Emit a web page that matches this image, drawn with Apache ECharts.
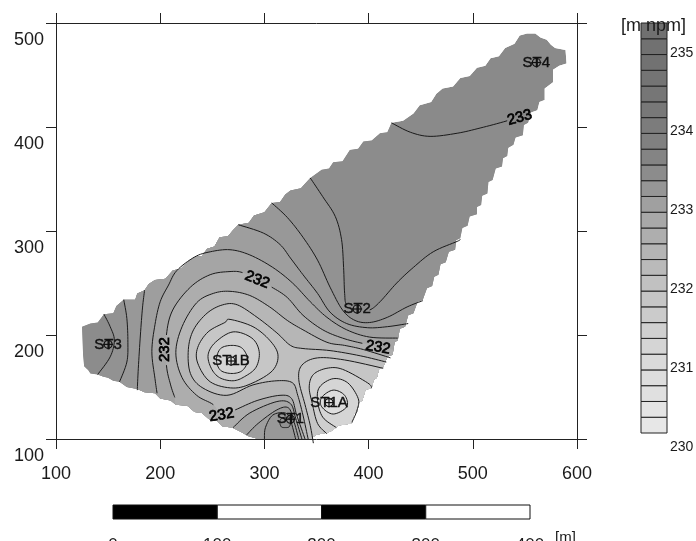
<!DOCTYPE html>
<html><head><meta charset="utf-8">
<style>html,body{margin:0;padding:0;background:#fff}#c{width:696px;height:541px}</style>
<script src="https://cdn.jsdelivr.net/npm/echarts@6/dist/echarts.min.js"></script>
</head><body><div id="c"></div>
<script>
const FONT='"Liberation Sans",Arial,sans-serif';
// site outline, metres
const outline=[[552,490],[560,490],[565,486],[571,484],[575,479],[579,476],[589,474],[590,461],[583,459],[577,455],[577,443],[569,437],[569,426],[564,424],[562,416],[556,414],[553,404],[549,402],[548,392],[541,390],[539,383],[534,380],[533,372],[529,370],[528,362],[522,360],[519,349],[515,347],[514,336],[509,334],[508,325],[504,323],[504,316],[497,314],[495,305],[490,303],[488,293],[484,291],[483,282],[477,280],[474,270],[469,268],[467,258],[463,256],[461,247],[456,245],[452,234],[447,232],[443,221],[438,219],[435,208],[430,206],[428,195],[425,193],[423,181],[418,179],[414,169],[410,167],[408,159],[405,157],[403,149],[397,147],[394,137],[391,135],[389,126],[386,124],[384,115],[371,113],[365,108],[360,106],[350,104],[344,100],[294,100],[284,103],[279,106],[269,111],[260,112],[254,118],[248,118],[240,125],[233,126],[226,132],[215,133],[210,137],[200,139],[195,144],[185,145],[178,148],[168,150],[161,155],[155,156],[150,159],[145,160],[140,162],[133,163],[131,166],[127,170],[126,181],[125,208],[133,211],[140,212],[146,220],[155,221],[158,228],[165,234],[176,234],[178,240],[185,243],[189,249],[195,253],[205,254],[212,262],[220,264],[225,269],[233,275],[240,276],[245,283],[252,285],[257,294],[265,295],[270,301],[275,306],[285,308],[290,315],[300,318],[307,327],[315,328],[320,335],[325,339],[335,341],[344,351],[355,359],[362,360],[366,366],[375,367],[382,378],[390,379],[395,386],[403,387],[411,394],[418,395],[422,404],[433,406],[443,413],[449,421],[460,424],[465,432],[471,437],[481,439],[488,447],[497,449],[504,457],[512,459],[517,466],[525,468],[531,476],[540,480],[545,488]];
// contour lines (null = gap under a label)
const c233=[[422,404],[440,395],[459,391],[485,394],[507,399],[533,406],null,[561,415]];
const cA=[[344,351],[356,333],[368,314],[374,292],[376,265],[377,240],[379,229],null,[389,222],null,[401,224],[411,232],[427,250],[443,265],[462,280],[485,290],[488,292]];
const cAw=[[140,162],[152,179],[156,195],[152,208],[146,220]];
const cB=[[307,327],[322,313],[337,294],[351,272],[363,246],[375,224],[387,214],[401,212],[418,217],[437,227],[452,233]];
const cBw=[[161,155],[168,174],[169,193],[168,216],[165,234]];
const cC=[[275,306],[299,298],[315,287],[325,274],[337,258],[351,240],[363,222],[379,211],[399,207],[418,208],[438,211]];
const cCw=[[178,147],[179,168],[181,200],[183,226],[185,243]];
const cCs=[[300,100],[301,111],[308,123],[320,125],[325,118],[330,100]];
const cD=[[197,144],[195,158],[192,184],[195,210],[200,232],[208,248],[216,262],[233,275],[248,280],[267,282],[286,277],[308,265],[327,250],[344,232],[360,217],[379,205],[401,198],[428,197]];
const cDs=[[283,104],[294,115],[312,128],[323,130],[328,118],[333,100]];
const cE=[[214,140],[210,152],[206,171],null,[206,200],[212,224],[229,246],[248,258],[267,261],[279,260],null,[293,253],null,[307,246],[322,236],[337,219],[356,205],[375,197],[394,192],null,[411,189],null,[423,186]];
const cEs=[[270,111],[286,125],[312,136],[325,134],[330,120],[336,100]];
const cF=[[421,178],[395,186],[377,190],[360,193],[337,205],[322,214],[305,227],[286,238],[267,242],[251,240],[235,231],[221,208],[215,183],[221,159],[235,142],[251,133],null,[259,123],null,[272,128],[293,137],[315,142],[326,139],[331,123],[339,100]];
const cG=[[417,174],[392,180],[363,185],[337,187],[325,190],[312,202],[293,217],[274,229],[260,229],[245,221],[232,205],[227,186],[229,163],[241,149],[264,142],[289,152],[312,156],[327,154],[332,142],[337,123],[342,100]];
const cH=[[267,215],[289,208],[305,195],[313,181],[308,166],[289,154],[270,149],[248,155],[236,173],[236,188],[246,203],[262,212]];
const cI=[[270,203],[288,197],[295,184],[292,169],[281,160],[270,156],[257,159],[249,168],[246,181],[253,193]];
const cJ=[[269,190],[279,187],[284,176],[279,166],[269,163],[258,166],[254,176],[258,187]];
const lobe1=[[414,168],[377,176],[351,178],[336,171],[333,157],[339,133],[344,113],[347,96]];
const lobe2=[[403,149],[399,154],[375,167],[360,168],[347,162],[343,150],[346,134],[351,115],[360,105]];
const lobe3=[[384,116],[389,128],[390,139],[380,154],[366,158],[353,150],[351,137],[356,121],[369,111]];
const ringA=[[366,147],[377,142],[379,131],[366,124],[355,131],[355,140]];
const ringS=[[320,121],[325,118],[324,112],[320,111],[316,112],[315,118]];
const openLines=[c233,cA,cAw,cB,cBw,cC,cCw,cCs,cD,cDs,cE,cEs,cF,cG,lobe1,lobe2,lobe3];
const closedLines=[cH,cI,cJ,ringA,ringS];
// contour labels
const labelText=['233','232','232','232','232'];
const labelX=[545,293,204,409,259];
const labelY=[409,253,186,188,123];
const labelAngle=[15,-22,90,-10,10];
// stations
const stationName=['ST1','ST2','ST3','ST4','ST1A','ST1B'];
const stationX=[325,389,150,561,362,268];
const stationY=[119,225,191,462,135,175];
// legend
const legendLevels=[230,230.2,230.4,230.6,230.8,231,231.2,231.4,231.6,231.8,232,232.2,232.4,232.6,232.8,233,233.2,233.4,233.6,233.8,234,234.2,234.4,234.6,234.8,235];
const legendGray=[231,228,224,221,218,213,208,203,198,193,186,180,174,168,160,150,140,132,128,124,120,118,116,114,113,112];
// scale bar
const scaleStart=[0,100,200,300];
const scaleFill=['#000','#fff','#000','#fff'];
const scaleTicks=[0,100,200,300,400];

const rev=a=>a.slice().reverse();
const C=a=>({curve:a}), R=a=>({raw:a});
// filled bands: nested from dark to light
const bands=[
 {gray:138,parts:[R(outline)]},
 {gray:140,parts:[C(c233),R([[650,410],[650,60],[60,60],[60,404]])]},
 {gray:146,parts:[C(cAw),R([[120,300],[300,380]]),C(cA),R([[650,292],[650,60],[140,60]])]},
 {gray:152,parts:[C(cBw),R([[120,300],[300,380],[300,345]]),C(cB),R([[650,233],[650,60],[161,60]])]},
 {gray:158,parts:[C(cCw),R([[150,300],[270,340]]),C(cC),R([[650,211],[650,60],[330,60],[330,85]]),C(rev(cCs)),R([[300,85],[300,60],[178,60]])]},
 {gray:165,parts:[C(cD),R([[650,197],[650,60],[333,60],[333,85]]),C(rev(cDs)),R([[270,90],[197,90]])]},
 {gray:173,parts:[C(cE),R([[650,186],[650,60],[336,60],[336,85]]),C(rev(cEs)),R([[240,100],[214,120]])]},
 {gray:182,parts:[C(cF),R([[339,60],[650,60],[650,178]])]},
 {gray:191,parts:[C(cG),R([[342,60],[650,60],[650,174]])]},
 {gray:198,parts:[C(lobe1),R([[347,60],[650,60],[650,168]])]},
 {gray:198,closed:cH},
 {gray:206,parts:[C(lobe2),R([[370,60],[650,60],[650,149]])]},
 {gray:206,closed:cI},
 {gray:213,parts:[C(lobe3),R([[375,95],[400,95],[400,116]])]},
 {gray:213,closed:cJ},
 {gray:222,closed:ringA},
 {gray:147,closed:ringS}
];
function spline(p,closed){
  const n=p.length,out=[],idx=i=>closed?p[(i+n)%n]:p[Math.max(0,Math.min(n-1,i))];
  const m=closed?n:n-1;
  for(let i=0;i<m;i++){
    const a=idx(i-1),b=idx(i),c=idx(i+1),d=idx(i+2),seg=[];
    for(let k=0;k<=8;k++){
      const t=k/8,t2=t*t,t3=t2*t;
      seg.push([
        .5*(2*b[0]+(c[0]-a[0])*t+(2*a[0]-5*b[0]+4*c[0]-d[0])*t2+(3*b[0]-a[0]-3*c[0]+d[0])*t3),
        .5*(2*b[1]+(c[1]-a[1])*t+(2*a[1]-5*b[1]+4*c[1]-d[1])*t2+(3*b[1]-a[1]-3*c[1]+d[1])*t3)]);
    }
    out.push(seg);
  }
  return out;
}
function strokePieces(line,api,closed){
  const clean=[],gaps=new Set();
  line.forEach(q=>{ if(q===null) gaps.add(clean.length-1); else clean.push(api.coord(q)); });
  const segs=spline(clean,closed),pieces=[];let cur=[];
  segs.forEach((s,i)=>{
    if(gaps.has(i)){ if(cur.length) pieces.push(cur); cur=[]; }
    else cur=cur.concat(s);
  });
  if(cur.length) pieces.push(cur);
  return pieces;
}
function curvePts(line,api,closed){
  const clean=line.filter(q=>q!==null).map(q=>api.coord(q));
  return [].concat(...spline(clean,closed));
}
const series=[
 {type:'custom',name:'bands',coordinateSystem:'cartesian2d',xAxisIndex:0,yAxisIndex:0,silent:true,z:2,
  data:bands.map((b,i)=>[i]),
  renderItem(p,api){
    const b=bands[api.value(0)];let pts=[];
    if(b.closed) pts=curvePts(b.closed,api,true);
    else b.parts.forEach(q=>{ pts=pts.concat(q.curve?curvePts(q.curve,api,false):q.raw.map(v=>api.coord(v))); });
    return {type:'polygon',shape:{points:pts},style:{fill:`rgb(${b.gray},${b.gray},${b.gray})`},
      clipPath:{type:'polygon',shape:{points:outline.map(v=>api.coord(v))}}};
  }},
 {type:'custom',name:'contours',coordinateSystem:'cartesian2d',xAxisIndex:0,yAxisIndex:0,silent:true,z:3,
  data:openLines.concat(closedLines).map((l,i)=>[i]),
  renderItem(p,api){
    const i=api.value(0),closed=i>=openLines.length,l=closed?closedLines[i-openLines.length]:openLines[i];
    return {type:'group',children:strokePieces(l,api,closed).map(pts=>({type:'polyline',shape:{points:pts},style:{fill:'none',stroke:'#1a1a1a',lineWidth:1}}))};
  }},
 {type:'custom',name:'contourLabels',coordinateSystem:'cartesian2d',xAxisIndex:0,yAxisIndex:0,silent:true,z:4,
  data:labelText.map((t,i)=>[i]),
  renderItem(p,api){
    const i=api.value(0),c=api.coord([labelX[i],labelY[i]]);
    return {type:'text',x:c[0],y:c[1],rotation:labelAngle[i]*Math.PI/180,
      style:{text:labelText[i],align:'center',verticalAlign:'middle',font:'15px '+FONT,fill:'#000',stroke:'#000',lineWidth:.7}};
  }},
 {type:'custom',name:'stations',coordinateSystem:'cartesian2d',xAxisIndex:0,yAxisIndex:0,silent:true,z:5,
  data:stationName.map((t,i)=>[i]),
  renderItem(p,api){
    const i=api.value(0),c=api.coord([stationX[i],stationY[i]]);
    const ln=(a,b,e,f)=>({type:'line',shape:{x1:a,y1:b,x2:e,y2:f},style:{stroke:'#111',lineWidth:1.2}});
    return {type:'group',children:[
      {type:'text',x:c[0],y:c[1],style:{text:stationName[i],align:'center',verticalAlign:'middle',font:'15px '+FONT,fill:'#111',stroke:'#111',lineWidth:.4}},
      {type:'circle',shape:{cx:c[0],cy:c[1],r:4},style:{fill:'none',stroke:'#111',lineWidth:1.2}},
      ln(c[0]-5,c[1],c[0]+5,c[1]),ln(c[0],c[1]-5,c[0],c[1]+5)]};
  }},
 {type:'custom',name:'legend',coordinateSystem:'cartesian2d',xAxisIndex:2,yAxisIndex:2,silent:true,z:2,
  data:legendLevels.map((v,i)=>[i]),
  renderItem(p,api){
    const i=api.value(0),a=api.coord([0,legendLevels[i]]),b=api.coord([1,legendLevels[i]+.2]),g=legendGray[i];
    return {type:'rect',shape:{x:a[0],y:b[1],width:b[0]-a[0],height:a[1]-b[1]},
      style:{fill:`rgb(${g},${g},${g})`,stroke:'#222',lineWidth:1}};
  }},
 {type:'custom',name:'scale',coordinateSystem:'cartesian2d',xAxisIndex:3,yAxisIndex:3,silent:true,z:2,
  data:scaleStart.map((v,i)=>[i]),
  renderItem(p,api){
    const i=api.value(0),a=api.coord([scaleStart[i],0]),b=api.coord([scaleStart[i]+100,1]);
    return {type:'rect',shape:{x:a[0],y:b[1],width:b[0]-a[0],height:a[1]-b[1]},
      style:{fill:scaleFill[i],stroke:'#111',lineWidth:1}};
  }}
];
const axisCommon={type:'value',splitLine:{show:false},axisLine:{show:true,onZero:false,lineStyle:{color:'#222',width:1}},
  axisTick:{show:true,length:10,inside:false,lineStyle:{color:'#222',width:1}}};
const hidden={type:'value',show:false,min:0,max:1,splitLine:{show:false}};
const lab={color:'#1a1a1a',fontFamily:FONT,fontSize:18};
const chart=echarts.init(document.getElementById('c'),null,{renderer:'canvas'});
chart.setOption({
  animation:false,backgroundColor:'#fff',
  grid:[
    {left:56,top:23,width:521,height:416,outerBoundsMode:'none'},
    {left:56,top:23,width:521,height:416,outerBoundsMode:'none'},
    {left:641,top:23,width:26,height:410,outerBoundsMode:'none'},
    {left:113,top:505,width:417,height:14,outerBoundsMode:'none'}
  ],
  xAxis:[
    {...axisCommon,gridIndex:0,position:'bottom',min:100,max:600,interval:100,axisLabel:{...lab,margin:26}},
    {...axisCommon,gridIndex:1,position:'top',min:100,max:600,interval:100,axisLabel:{show:false}},
    {...hidden,gridIndex:2},
    {type:'value',gridIndex:3,min:0,max:400,interval:100,splitLine:{show:false},axisLine:{show:false},axisTick:{show:false},
     axisLabel:{...lab,fontSize:17,margin:18}}
  ],
  yAxis:[
    {...axisCommon,gridIndex:0,position:'left',min:100,max:500,interval:100,
      axisLabel:{...lab,margin:12,verticalAlign:'top',padding:[8,0,0,0]}},
    {...axisCommon,gridIndex:1,position:'right',min:100,max:500,interval:100,axisLabel:{show:false}},
    {type:'value',gridIndex:2,position:'right',min:230,max:235.2,interval:1,splitLine:{show:false},axisLine:{show:false},axisTick:{show:false},
      axisLabel:{color:'#1a1a1a',fontFamily:FONT,fontSize:14,margin:3,verticalAlign:'top',padding:[7,0,0,0],
        formatter:v=>Number.isInteger(v)?String(v):''}},
    {...hidden,gridIndex:3}
  ],
  graphic:[
    {type:'text',left:621,top:17,z:10,style:{text:'[m npm]',font:'18px '+FONT,fill:'#1a1a1a'}},
    {type:'text',left:555,top:530,z:10,style:{text:'[m]',font:'15px '+FONT,fill:'#1a1a1a'}}
  ],
  series
});
</script></body></html>
